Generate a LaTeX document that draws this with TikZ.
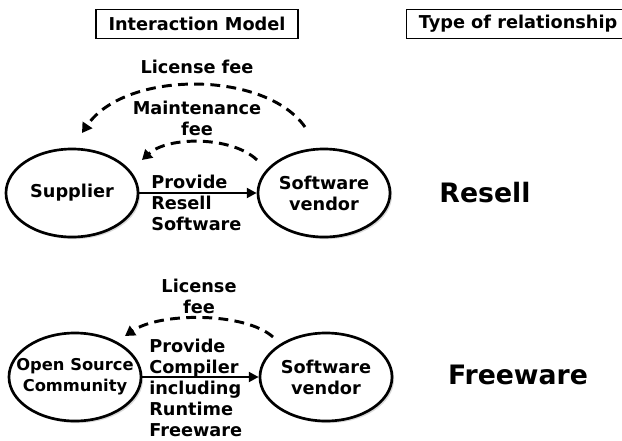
\documentclass[tikz,border=0pt]{standalone}
\usepackage{fontspec}
\setmainfont{DejaVu Sans}
\usetikzlibrary{shapes.geometric,arrows.meta,shadows}

\newcommand{\lblfont}{\bfseries\fontsize{12.6}{15}\selectfont}
\newcommand{\bigfont}{\bfseries\fontsize{19}{22}\selectfont}

\tikzset{
  party/.style={ellipse,draw,line width=1.9pt,minimum width=3.3cm,minimum height=2.2cm,
    inner sep=0pt,align=center,font=\lblfont,fill=white,
    drop shadow={shadow xshift=1.5pt,shadow yshift=-1.5pt,opacity=0.3,fill=gray}},
  headbox/.style={draw,line width=1pt,minimum height=0.72cm,inner sep=0pt,font=\lblfont},
  lbl/.style={font=\lblfont,align=center,inner sep=0pt},
  feeline/.style={line width=2.1pt,dash pattern=on 7pt off 4.5pt,-{Triangle[length=7pt,width=8pt]}},
  supply/.style={line width=1.8pt,-{Triangle[length=7pt,width=7pt]}}
}

\begin{document}
\begin{tikzpicture}[x=0.025cm,y=-0.025cm]
\useasboundingbox (0,0) rectangle (622,440);
% column headings
\node[headbox,minimum width=5.05cm] (hmodel) at (197,24) {Interaction Model};
\node[headbox,minimum width=5.55cm,anchor=west] (hrel) at (406,24) {\hspace{0.5pt}Type of relationship\hspace{10pt}};
%%% resell
\node[party] (sup) at (72,193) {Supplier};
\node[party] (ven1) at (324,193) {Software\\vendor};
\node[lbl] (lic1) at (197,67) {License fee};
\node[lbl] (mnt) at (197,118) {Maintenance\\fee};
\node[lbl,align=left,anchor=west] (prov1) at (151,203) {Provide\\Resell\\Software};
\node[font=\bigfont] (resell) at (485,193) {Resell};
\coordinate (a1s) at (305,127);
\coordinate (a1e) at (82,133);
\coordinate (a2s) at (257,160);
\coordinate (a2e) at (142,160);
\draw[supply] (sup) -- (ven1);
\draw[feeline] (a1s) .. controls (265,70) and (125,70) .. (a1e);
\draw[feeline] (a2s) .. controls (232,136) and (168,136) .. (a2e);
%%% freeware
\node[party] (osc) at (75,377) {};
\node[lbl,font=\bfseries\fontsize{11.6}{15}\selectfont] (osctxt) at (osc) {Open Source\\Community};
\node[party] (ven2) at (326,377) {Software\\vendor};
\node[lbl] (lic2) at (199,296) {License\\fee};
\node[lbl,align=left,anchor=west] (prov2) at (149,388) {Provide\\Compiler\\including\\Runtime\\Freeware};
\node[font=\bigfont] (free) at (518,375) {Freeware};
\coordinate (a3s) at (273,337);
\coordinate (a3e) at (125,336);
\draw[supply] (osc) -- (ven2);
\draw[feeline] (a3s) .. controls (245,312) and (160,312) .. (a3e);
\end{tikzpicture}
\end{document}
